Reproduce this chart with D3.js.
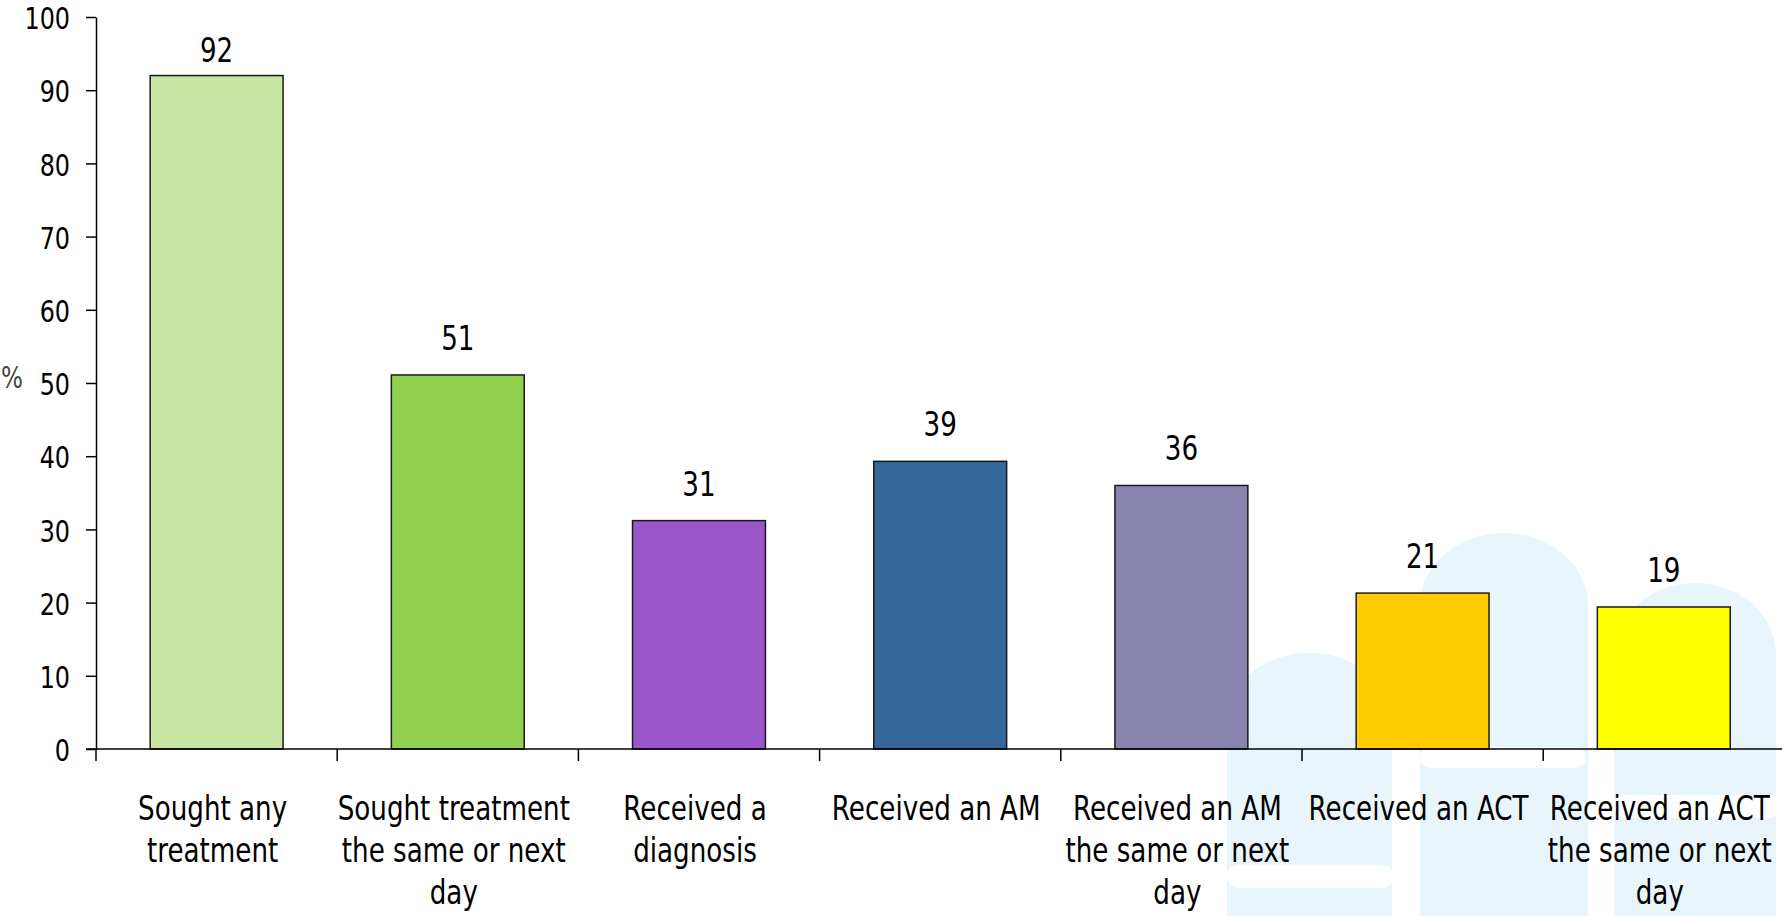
<!DOCTYPE html>
<html>
<head>
<meta charset="utf-8">
<script src="https://cdn.jsdelivr.net/npm/d3@7"></script>
<style>
  html, body { margin: 0; padding: 0; background: #ffffff; }
  svg { display: block; }
  text { font-family: "DejaVu Sans", Verdana, sans-serif; fill: #000; }
</style>
</head>
<body>
<svg id="chart" width="1782" height="916"></svg>
<script>
// ---- data ----
const categories = [
  "Sought any\ntreatment",
  "Sought treatment\nthe same or next\nday",
  "Received a\ndiagnosis",
  "Received an AM",
  "Received an AM\nthe same or next\nday",
  "Received an ACT",
  "Received an ACT\nthe same or next\nday"
];
const values = [92, 51.1, 31.2, 39.3, 36.0, 21.3, 19.4];
const barColors = ["#c9e7a3", "#92d050", "#9a56c9", "#34679a", "#8984ae", "#ffcc00", "#ffff00"];
const yTicks = [0, 10, 20, 30, 40, 50, 60, 70, 80, 90, 100];
const yLabel = "%";

// ---- layout ----
const W = 1782, H = 916;
const x0 = 96, x1 = 96 + 7 * 241.2;
const yTop = 17, yBase = 749;
const SX = 0.77; // horizontal squeeze of the text

const svg = d3.select("#chart");

// watermark (decorative background)
const wm = svg.append("g").attr("class", "watermark");
const arches = [
  {l: 1227, r: 1392, top: 653, ry: 68},
  {l: 1420, r: 1588, top: 533, ry: 72},
  {l: 1614, r: 1776, top: 583, ry: 72}
];
arches.forEach(a => {
  const rx = (a.r - a.l) / 2;
  wm.append("path")
    .attr("d", `M${a.l},${H} L${a.l},${a.top + a.ry} A${rx},${a.ry} 0 0 1 ${a.r},${a.top + a.ry} L${a.r},${H} Z`)
    .attr("fill", "#e8f6fb");
});
[
  {x: 1420, y: 747, w: 166, h: 21},
  {x: 1227, y: 865, w: 166, h: 23},
  {x: 1614, y: 795, w: 166, h: 23}
].forEach(b => {
  wm.append("rect").attr("x", b.x).attr("y", b.y).attr("width", b.w).attr("height", b.h)
    .attr("rx", 11).attr("ry", 11).attr("fill", "#ffffff");
});

// scales
const x = d3.scaleBand()
  .domain(categories)
  .range([x0, x1])
  .paddingInner(0.449)
  .paddingOuter(0.2245);
const y = d3.scaleLinear().domain([0, 100]).range([yBase, yTop]);

// bars
svg.append("g").selectAll("rect")
  .data(values)
  .join("rect")
  .attr("x", (d, i) => x(categories[i]))
  .attr("y", d => y(d))
  .attr("width", x.bandwidth())
  .attr("height", d => yBase - y(d))
  .attr("fill", (d, i) => barColors[i])
  .attr("stroke", "#1a1a1a")
  .attr("stroke-width", 1.5);

// value labels
svg.append("g").selectAll("text")
  .data(values)
  .join("text")
  .attr("transform", (d, i) => {
    const cx = x(categories[i]) + x.bandwidth() / 2;
    const by = Math.max(y(d) - 25, 62);
    return `translate(${cx},${by}) scale(${SX},1)`;
  })
  .attr("text-anchor", "middle")
  .attr("font-size", 34)
  .text(d => String(Math.round(d)));

// y axis
const yAxis = d3.axisLeft(y).tickValues(yTicks).tickSize(10).tickSizeOuter(0).tickPadding(0);
const gy = svg.append("g").attr("transform", `translate(${x0},0)`).call(yAxis);
gy.select(".domain").attr("stroke", "#000").attr("stroke-width", 1.5);
gy.selectAll(".tick line").attr("stroke", "#000").attr("stroke-width", 1.5);
gy.selectAll(".tick text")
  .attr("x", null).attr("dy", null)
  .attr("transform", `translate(-26,1) scale(${SX},1)`)
  .attr("dominant-baseline", "central")
  .attr("text-anchor", "end")
  .attr("font-size", 31)
  .attr("font-family", "DejaVu Sans")
  .attr("fill", "#000");

// x axis line + ticks at category boundaries
const boundaries = categories.map((c, i) => i === 0 ? x0 : x(c) - x.step() * x.paddingInner() / 2);
boundaries.push(x1);
const gx = svg.append("g");
gx.append("line").attr("x1", x0 - 10).attr("x2", W).attr("y1", yBase).attr("y2", yBase)
  .attr("stroke", "#000").attr("stroke-width", 1.5);
gx.selectAll("line.tk").data(boundaries).join("line").attr("class", "tk")
  .attr("x1", d => d).attr("x2", d => d).attr("y1", yBase).attr("y2", yBase + 12)
  .attr("stroke", "#000").attr("stroke-width", 1.5);

// category labels
const lab = svg.append("g").selectAll("text")
  .data(categories)
  .join("text")
  .attr("transform", d => `translate(${x(d) + x.bandwidth() / 2 - 4},820) scale(${SX},1)`)
  .attr("text-anchor", "middle")
  .attr("font-size", 34);
lab.each(function(d) {
  const lines = d.split("\n");
  d3.select(this).selectAll("tspan").data(lines).join("tspan")
    .attr("x", 0).attr("y", (l, i) => i * 42).text(l => l);
});

// y label
svg.append("text")
  .attr("transform", `translate(12,377) scale(${SX},1)`)
  .attr("text-anchor", "middle")
  .attr("dominant-baseline", "central")
  .attr("font-size", 30)
  .style("fill", "#444")
  .text(yLabel);
</script>
</body>
</html>
